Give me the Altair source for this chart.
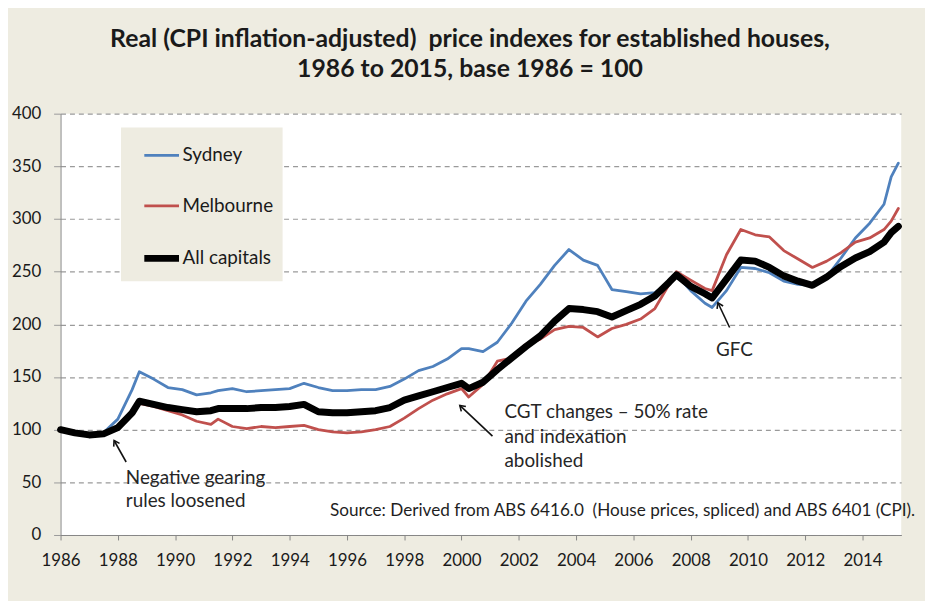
import math
import altair as alt
import pandas as pd

# ---- data ----
years = [1986.0, 1986.5, 1987.0, 1987.5, 1988.0, 1988.5, 1988.75, 1989.25, 1989.75,
         1990.25, 1990.75, 1991.25, 1991.5, 1992.0, 1992.5, 1993.0, 1993.5, 1994.0,
         1994.5, 1995.0, 1995.5, 1996.0, 1996.5, 1997.0, 1997.5, 1998.0, 1998.5,
         1999.0, 1999.5, 2000.0, 2000.25, 2000.75, 2001.25, 2001.75, 2002.25, 2002.75,
         2003.25, 2003.75, 2004.25, 2004.75, 2005.25, 2005.75, 2006.25, 2006.75,
         2007.25, 2007.5, 2008.0, 2008.5, 2008.75, 2009.25, 2009.75, 2010.25, 2010.75,
         2011.25, 2011.75, 2012.25, 2012.75, 2013.25, 2013.75, 2014.25, 2014.75,
         2015.0, 2015.25]

sydney = [100, 97, 95, 97, 110, 138, 155, 148, 140,
          138, 133, 135, 137, 139, 136, 137, 138, 139,
          144, 140, 137, 137, 138, 138, 141, 148, 156,
          160, 167, 177, 177, 174, 183, 201, 222, 238,
          256, 271, 261, 256, 233, 231, 229, 230,
          240, 247, 232, 220, 216, 232, 254, 253, 249,
          241, 238, 237, 245, 263, 282, 296, 314,
          340, 353]

melbourne = [100, 97, 95, 96, 102, 117, 125, 122, 118,
             114, 108, 105, 110, 103, 101, 103, 102, 103,
             104, 100, 98, 97, 98, 100, 103, 111, 120,
             128, 134, 139, 131, 143, 165, 168, 181, 186,
             195, 198, 197, 188, 196, 200, 205, 215,
             238, 250, 242, 234, 232, 266, 290, 285, 283,
             270, 262, 254, 260, 268, 278, 282, 290,
             298, 310]

all_capitals = [100, 97, 95, 96, 102, 116, 127, 124, 121,
                119, 117, 118, 120, 120, 120, 121, 121, 122,
                124, 117, 116, 116, 117, 118, 121, 128, 132,
                136, 140, 144, 139, 145, 157, 168, 179, 189,
                203, 215, 214, 212, 207, 213, 219, 227,
                240, 247, 236, 229, 225, 243, 261, 260, 254,
                246, 241, 237, 245, 255, 263, 269, 278,
                287, 293]

series_names = ["Sydney", "Melbourne", "All capitals"]
series_colors = ["#4F81BD", "#C0504D", "#000000"]
series_widths = [2.8, 2.8, 7]

x_ticks = list(range(1986, 2015, 2))
y_ticks = list(range(0, 401, 50))

title_lines = ["Real (CPI inflation-adjusted)\u00a0 price indexes for established houses,",
               "1986 to 2015, base 1986 = 100"]

# annotation texts (position in data units)
note_text = ["Negative gearing", "rules loosened",
             "CGT changes \u2013 50% rate", "and indexation", "abolished",
             "GFC"]
note_x = [1988.28, 1988.28, 2001.5, 2001.5, 2001.5, 2009.53]
note_y = [53.6, 32.0, 116.7, 93.2, 70.6, 176]
note_align = ["left", "left", "left", "left", "left", "center"]

source_text = ["Source: Derived from ABS 6416.0\u00a0 (House prices, spliced) and ABS 6401 (CPI)."]
source_x = [1995.41]
source_y = [22.6]

# arrows: tail -> tip
arrow_x1 = [1988.29, 2001.08, 2009.36]
arrow_y1 = [69.3, 93.8, 197.0]
arrow_x2 = [1987.87, 1999.94, 2008.95]
arrow_y2 = [89.7, 123.0, 220.5]

# ---- layout ----
W, H = 848, 425
X_DOM = [1986, 2015.35]
Y_DOM = [0, 400]
FONT = "Lato"

rows = []
for name, vals in zip(series_names, [sydney, melbourne, all_capitals]):
    for yr, v in zip(years, vals):
        rows.append({"year": yr, "series": name, "value": v})
df = pd.DataFrame(rows)

px_per_x = W / (X_DOM[1] - X_DOM[0])
px_per_y = H / (Y_DOM[1] - Y_DOM[0])
angles = []
for x1, y1, x2, y2 in zip(arrow_x1, arrow_y1, arrow_x2, arrow_y2):
    dx = (x2 - x1) * px_per_x
    dy = -(y2 - y1) * px_per_y
    ang = math.degrees(math.atan2(dx, -dy)) % 360
    angles.append(ang)

arrows = pd.DataFrame({"x1": arrow_x1, "y1": arrow_y1, "x2": arrow_x2,
                       "y2": arrow_y2, "angle": angles})
notes = pd.DataFrame({"x": note_x, "y": note_y, "text": note_text, "align": note_align})
source = pd.DataFrame({"x": source_x, "y": source_y, "text": source_text})

xscale = alt.Scale(domain=X_DOM, nice=False, zero=False)
yscale = alt.Scale(domain=Y_DOM, nice=False)

legend = alt.Legend(
    title=None, orient="none", legendX=61, legendY=14,
    fillColor="#EEECE1", padding=9, symbolOffset=11,
    symbolType="stroke", symbolSize=1225, rowPadding=22,
    labelFont=FONT, labelFontSize=19, labelColor="#1a1a1a", labelOffset=0,
    labelExpr="datum.label + '" + "\u00a0" * 15 + "'",
)

color = alt.Color("series:N", sort=series_names,
                  scale=alt.Scale(domain=series_names, range=series_colors),
                  legend=legend)
swidth = alt.StrokeWidth("series:N", sort=series_names,
                         scale=alt.Scale(type="ordinal", domain=series_names,
                                         range=series_widths),
                         legend=legend)

x_enc = alt.X("year:Q", scale=xscale,
              axis=alt.Axis(values=x_ticks, format="d", title=None, grid=False,
                            domainColor="#868686", tickColor="#868686", tickSize=5,
                            labelFont=FONT, labelFontSize=17, labelColor="#1a1a1a",
                            labelPadding=13, labelFlush=False))
y_enc = alt.Y("value:Q", scale=yscale,
              axis=alt.Axis(values=y_ticks, title=None, grid=True, gridDash=[5, 4],
                            gridColor="#9a9a9a", gridWidth=1.2,
                            domainColor="#868686", tickColor="#9a9a9a", tickSize=7,
                            labelFont=FONT, labelFontSize=17, labelColor="#1a1a1a",
                            labelPadding=13))

base = alt.Chart(df).mark_line(strokeJoin="round", strokeCap="round").encode(
    x=x_enc, y=y_enc, color=color, strokeWidth=swidth)

lines_thin = base.transform_filter(alt.datum.series != "All capitals")
lines_thick = base.transform_filter(alt.datum.series == "All capitals")

arrow_lines = alt.Chart(arrows).mark_rule(color="#111111", strokeWidth=1.6).encode(
    x=alt.X("x1:Q", scale=xscale), y=alt.Y("y1:Q", scale=yscale),
    x2="x2:Q", y2="y2:Q")
arrow_heads = alt.Chart(arrows).mark_point(
    shape="M -0.55 0.85 L 0 0 L 0.55 0.85", filled=False, color="#111111",
    strokeWidth=1.6, size=150, opacity=1).encode(
    x=alt.X("x2:Q", scale=xscale), y=alt.Y("y2:Q", scale=yscale),
    angle=alt.Angle("angle:Q", scale=None))

def note_layer(align):
    return alt.Chart(notes).transform_filter(alt.datum.align == align).mark_text(
        font=FONT, fontSize=19, color="#262626", baseline="middle", align=align).encode(
        x=alt.X("x:Q", scale=xscale), y=alt.Y("y:Q", scale=yscale), text="text:N")

source_layer = alt.Chart(source).mark_text(
    font=FONT, fontSize=17.3, color="#1f1f1f", baseline="middle", align="left").encode(
    x=alt.X("x:Q", scale=xscale), y=alt.Y("y:Q", scale=yscale), text="text:N")

chart = alt.layer(lines_thin, lines_thick, arrow_lines, arrow_heads,
                  note_layer("left"), note_layer("center"), source_layer).properties(
    width=W, height=H,
    padding={"left": 53, "top": 104, "right": 24, "bottom": 64},
    autosize=alt.AutoSizeParams(type="none"),
    background="#EEECE1",
    title=alt.TitleParams(title_lines, font=FONT, fontSize=25, fontWeight="bold",
                          color="#1a1a1a", anchor="middle", lineHeight=30,
                          offset=23, dx=-11),
).configure_view(fill="white", stroke=None)

chart.save("out.html", embed_options={"renderer": "svg", "actions": False})
